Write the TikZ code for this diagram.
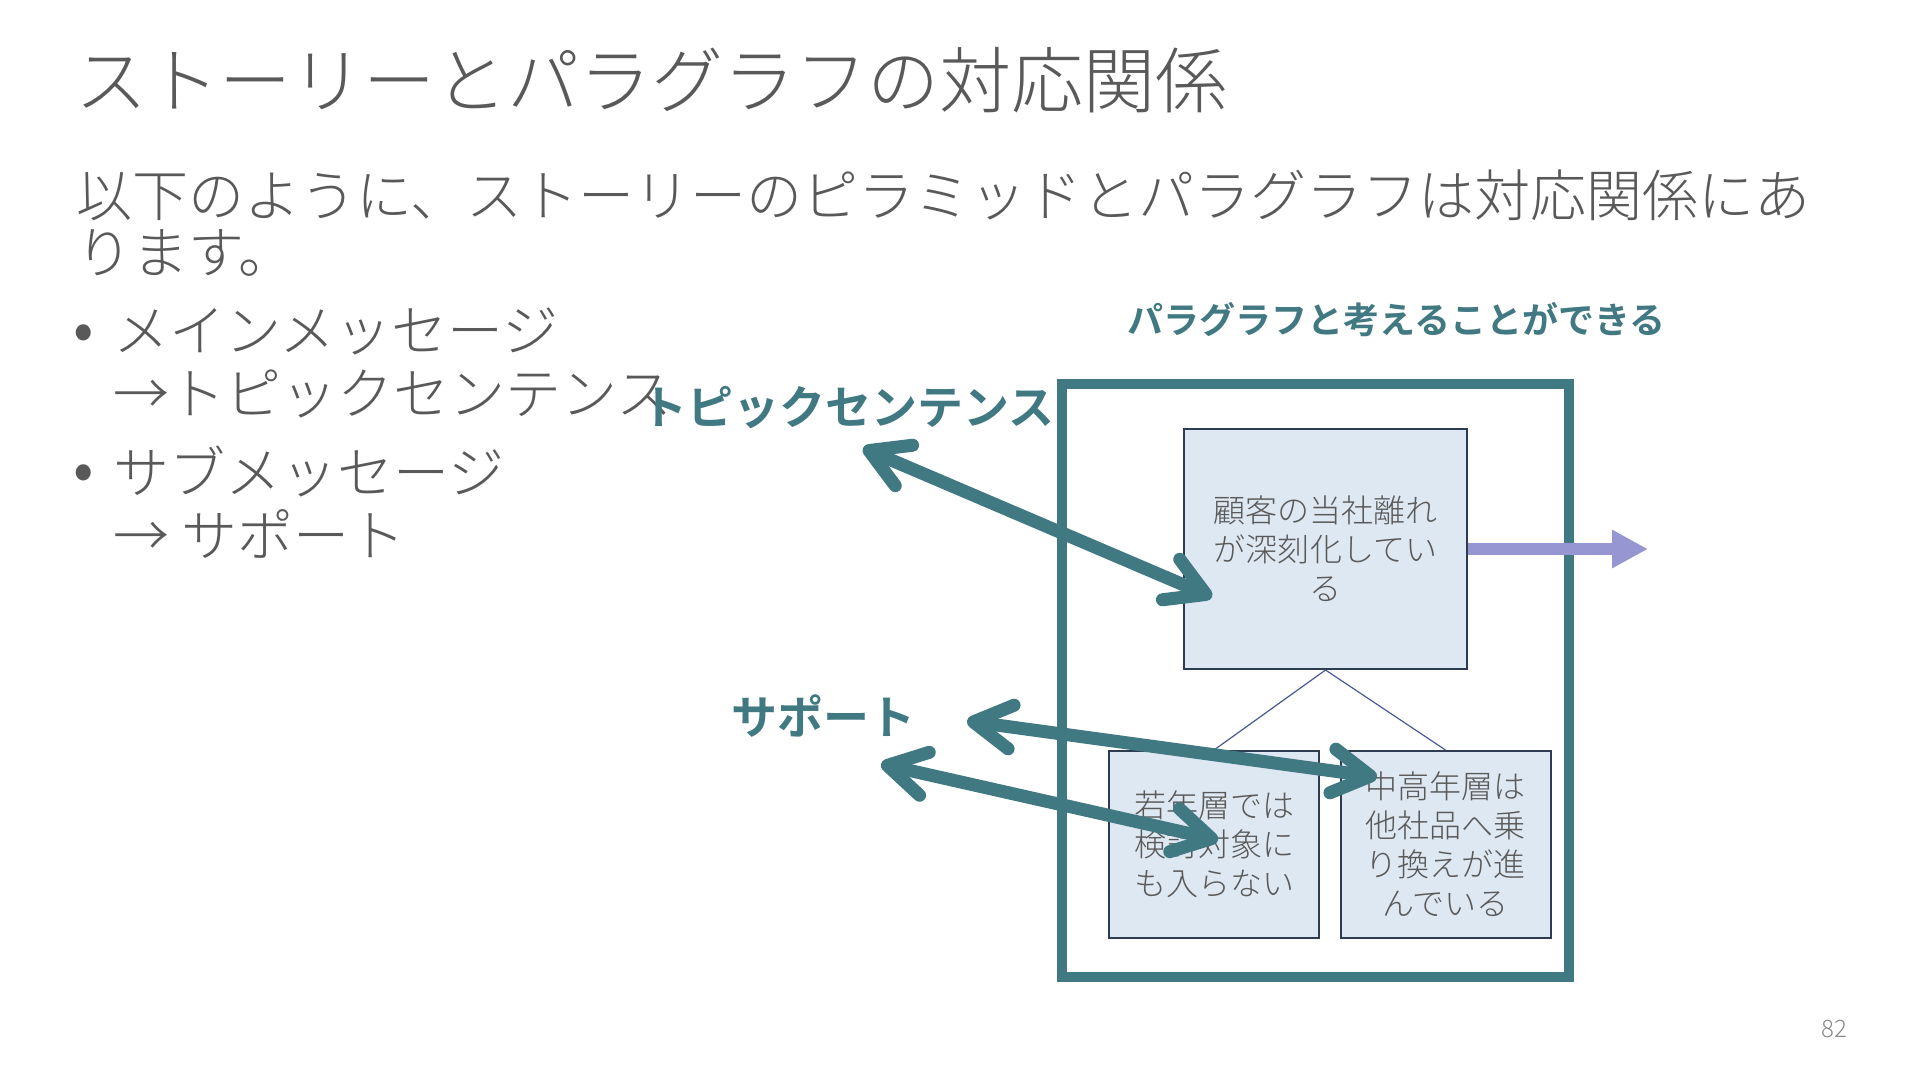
\documentclass[tikz,border=0pt]{standalone}
\usepackage{fontspec}
\setmainfont{Noto Sans CJK JP}[UprightFont={* Light}, BoldFont={* Bold}]
\newfontfamily\bulletfont{Noto Sans CJK JP}
\usetikzlibrary{arrows.meta}
\definecolor{txtgray}{RGB}{89,89,89}
\definecolor{tealc}{RGB}{65,121,130}
\definecolor{boxfill}{RGB}{222,232,243}
\definecolor{boxline}{RGB}{45,60,80}
\definecolor{treec}{RGB}{70,90,145}
\definecolor{purp}{RGB}{150,150,210}
\definecolor{numgray}{RGB}{137,137,137}
\tikzset{
  titletext/.style={anchor=west, inner sep=0, text=txtgray, font=\fontsize{36pt}{43pt}\selectfont},
  bodytext/.style={anchor=west, inner sep=0, text=txtgray, font=\fontsize{28pt}{34pt}\selectfont},
  bulletdot/.style={anchor=center, inner sep=0, text=txtgray, font=\bulletfont\fontsize{30pt}{36pt}\selectfont},
  tlabel/.style={anchor=west, inner sep=0, text=tealc, font=\bfseries\fontsize{23pt}{28pt}\selectfont},
  hlabel/.style={anchor=west, inner sep=0, text=tealc, font=\bfseries\fontsize{18pt}{22pt}\selectfont},
  card/.style={draw=boxline, line width=1pt, fill=boxfill, inner sep=0, text=txtgray,
    font=\fontsize{16pt}{19.5pt}\selectfont, align=center},
  paraframe/.style={draw=tealc, line width=5pt, inner sep=0},
  dblarrow/.style={draw=tealc, line width=6.5pt, line cap=round,
    {Straight Barb[length=19pt,width=22pt,round]}-{Straight Barb[length=19pt,width=22pt,round]}},
  treeline/.style={draw=treec, line width=0.6pt},
  purparrow/.style={draw=purp, line width=6pt, -{Triangle[length=18pt,width=18pt]}},
}
\begin{document}
\begin{tikzpicture}[x=0.5pt,y=-0.5pt]
\useasboundingbox (0,0) rectangle (1920,1080);
\fill[white] (0,0) rectangle (1920,1080);

% title and body
\node[titletext] (title) at (75,80) {ストーリーとパラグラフの対応関係};
\node[bodytext] (body1) at (76,195) {以下のように、ストーリーのピラミッドとパラグラフは対応関係にあ};
\node[bodytext] (body2) at (76,253) {ります。};
\node[bulletdot] (b1) at (84,338) {•};
\node[bodytext] (b1a) at (113,331) {メインメッセージ};
\node[bodytext] (b1b) at (113,394) {→トピックセンテンス};
\node[bulletdot] (b2) at (84,478) {•};
\node[bodytext] (b2a) at (113,471) {サブメッセージ};
\node[bodytext] (b2b) at (113,534) {→ サポート};

% labels
\node[hlabel] (plabel) at (1127,320) {パラグラフと考えることができる};
\node[tlabel] (tslabel) at (641,408) {トピックセンテンス};
\node[tlabel] (splabel) at (731,716) {サポート};

% paragraph frame
\node[paraframe, minimum width=253.5pt, minimum height=296.5pt] (frame) at (1315.5,680.5) {};

% boxes
\node[card, minimum width=141.5pt, minimum height=120pt] (top) at (1325.5,549)
  {顧客の当社離れ\\が深刻化してい\\る};
\node[card, minimum width=105pt, minimum height=93.5pt] (left) at (1214,844.5)
  {若年層では\\検討対象に\\も入らない};
\node[card, minimum width=105pt, minimum height=93.5pt] (right) at (1445.5,844.5)
  {中高年層は\\他社品へ乗\\り換えが進\\んでいる};

% tree lines
\draw[treeline] (top.south) -- (left.north);
\draw[treeline] (top.south) -- (right.north);

% purple arrow
\coordinate (pend) at (1648,549);
\draw[purparrow] (top.east) -- (pend);

% teal double arrows
\coordinate (tsL) at (863,448);
\coordinate (tsR) at (1212,597);
\coordinate (s1L) at (967,721);
\coordinate (s1R) at (1377,777);
\coordinate (s2L) at (881,764);
\coordinate (s2R) at (1218,840);
\draw[dblarrow] (tsL) -- (tsR);
\draw[dblarrow] (s1L) -- (s1R);
\draw[dblarrow] (s2L) -- (s2R);

% page number
\node[anchor=center, inner sep=0, text=numgray, font=\fontsize{12pt}{14pt}\selectfont] (pg) at (1834,1029) {82};
\end{tikzpicture}
\end{document}
